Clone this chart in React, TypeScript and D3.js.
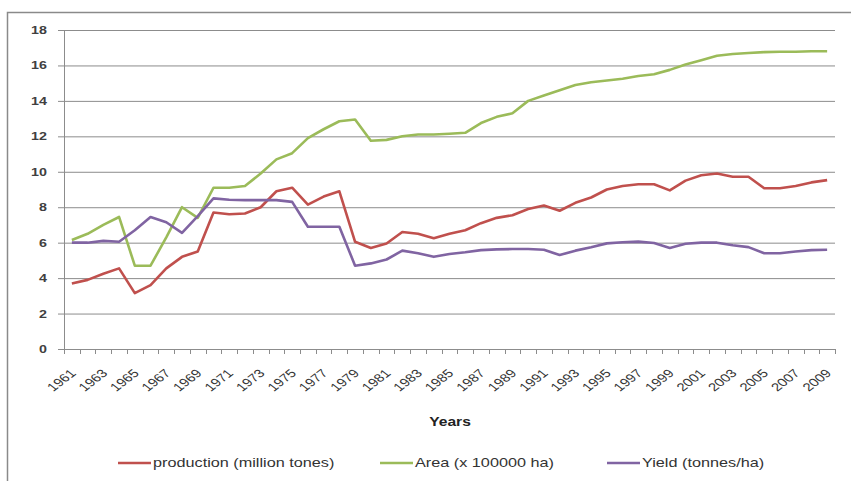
import React, { useEffect, useRef } from 'react';
import * as d3 from 'd3';

const years = [
  1961, 1962, 1963, 1964, 1965, 1966, 1967, 1968, 1969, 1970,
  1971, 1972, 1973, 1974, 1975, 1976, 1977, 1978, 1979, 1980,
  1981, 1982, 1983, 1984, 1985, 1986, 1987, 1988, 1989, 1990,
  1991, 1992, 1993, 1994, 1995, 1996, 1997, 1998, 1999, 2000,
  2001, 2002, 2003, 2004, 2005, 2006, 2007, 2008, 2009,
];

const xTickLabels = [
  1961, 1963, 1965, 1967, 1969, 1971, 1973, 1975, 1977, 1979, 1981, 1983, 1985,
  1987, 1989, 1991, 1993, 1995, 1997, 1999, 2001, 2003, 2005, 2007, 2009,
];

const yTicks = [0, 2, 4, 6, 8, 10, 12, 14, 16, 18];

// production (million tones)
const production = [
  3.7, 3.9, 4.25, 4.55, 3.15, 3.6, 4.55, 5.2, 5.5, 7.7,
  7.6, 7.65, 8.0, 8.9, 9.1, 8.15, 8.6, 8.9, 6.05, 5.7,
  5.95, 6.6, 6.5, 6.25, 6.5, 6.7, 7.1, 7.4, 7.55, 7.9,
  8.1, 7.8, 8.25, 8.55, 9.0, 9.2, 9.3, 9.3, 8.95, 9.5,
  9.8, 9.9, 9.72, 9.72, 9.07, 9.07, 9.2, 9.4, 9.53,
];

// Area (x 100000 ha)
const area = [
  6.15, 6.5, 7.0, 7.45, 4.7, 4.7, 6.3, 8.0, 7.4, 9.1,
  9.1, 9.2, 9.9, 10.7, 11.05, 11.9, 12.4, 12.85, 12.95, 11.75,
  11.8, 12.0, 12.1, 12.1, 12.15, 12.2, 12.75, 13.1, 13.3, 14.0,
  14.3, 14.6, 14.9, 15.05, 15.15, 15.25, 15.4, 15.5, 15.75, 16.05,
  16.3, 16.55, 16.65, 16.7, 16.75, 16.77, 16.77, 16.8, 16.8,
];

// Yield (tonnes/ha)
const yieldValues = [
  6.0, 6.0, 6.1, 6.05, 6.7, 7.45, 7.15, 6.55, 7.5, 8.5,
  8.42, 8.4, 8.4, 8.4, 8.3, 6.9, 6.9, 6.9, 4.7, 4.83,
  5.05, 5.55, 5.4, 5.2, 5.36, 5.46, 5.58, 5.62, 5.64, 5.64,
  5.6, 5.3, 5.55, 5.74, 5.96, 6.02, 6.06, 5.98, 5.7, 5.94,
  6.0, 6.0, 5.85, 5.75, 5.4, 5.4, 5.5, 5.58, 5.6,
];

const seriesNames = ['production (million tones)', 'Area (x 100000 ha)', 'Yield (tonnes/ha)'];
const seriesColors = ['#C0504D', '#9BBB59', '#8064A2'];

export default function App() {
  const ref = useRef<SVGSVGElement>(null);

  useEffect(() => {
    const w = 851;
    const h = 481;
    const left = 64, right = 835, top = 30, bottom = 349;
    const font = "'Liberation Sans', Arial, sans-serif";
    const sx = 1.3;

    const svg = d3.select(ref.current);
    svg.selectAll('*').remove();

    svg.append('rect').attr('width', w).attr('height', h).attr('fill', '#fff');
    // chart frame (only left/top visible)
    svg.append('rect')
      .attr('x', 7.5).attr('y', 12.5)
      .attr('width', w + 20).attr('height', h + 20)
      .attr('fill', 'none').attr('stroke', '#8a8a8a').attr('stroke-width', 1.5);

    const x = d3.scaleBand<number>().domain(years).range([left, right]);
    const y = d3.scaleLinear().domain([0, 18]).range([bottom, top]);

    // gridlines + y tick marks
    svg.append('g').selectAll('line')
      .data(yTicks.filter(t => t > 0))
      .enter().append('line')
      .attr('x1', left - 6).attr('x2', right)
      .attr('y1', d => y(d) + 0.5).attr('y2', d => y(d) + 0.5)
      .attr('stroke', '#8c8c8c').attr('stroke-width', 1);

    // y labels
    svg.append('g').selectAll('text')
      .data(yTicks)
      .enter().append('text')
      .attr('transform', d => `translate(47, ${y(d) + 4}) scale(${sx},1)`)
      .attr('text-anchor', 'end')
      .attr('font-family', font).attr('font-size', 11).attr('font-weight', 'bold')
      .attr('fill', '#404040')
      .text(d => d);

    // axes lines
    svg.append('line')
      .attr('x1', left + 0.5).attr('x2', left + 0.5).attr('y1', top).attr('y2', bottom)
      .attr('stroke', '#8c8c8c');
    svg.append('line')
      .attr('x1', left - 6).attr('x2', right).attr('y1', bottom + 0.5).attr('y2', bottom + 0.5)
      .attr('stroke', '#8c8c8c');

    // x tick marks at category boundaries
    const bounds = years.map(d => x(d) as number).concat([right]);
    svg.append('g').selectAll('line')
      .data(bounds)
      .enter().append('line')
      .attr('x1', d => Math.round(d) + 0.5).attr('x2', d => Math.round(d) + 0.5)
      .attr('y1', bottom).attr('y2', bottom + 5)
      .attr('stroke', '#8c8c8c');

    // x labels
    svg.append('g').selectAll('text')
      .data(xTickLabels)
      .enter().append('text')
      .attr('transform', d => `translate(${(x(d) as number) + x.bandwidth() / 2 + 5}, 374) scale(${sx},1) rotate(-45)`)
      .attr('text-anchor', 'end')
      .attr('font-family', font).attr('font-size', 11.5)
      .attr('fill', '#333')
      .text(d => d);

    // axis title
    svg.append('text')
      .attr('transform', `translate(450, 426) scale(${sx},1)`)
      .attr('text-anchor', 'middle')
      .attr('font-family', font).attr('font-size', 12).attr('font-weight', 'bold')
      .attr('fill', '#222')
      .text('Years');

    // lines
    const line = d3.line<number>()
      .x((d, i) => (x(years[i]) as number) + x.bandwidth() / 2)
      .y(d => y(d));

    [production, area, yieldValues].forEach((data, k) => {
      svg.append('path')
        .datum(data)
        .attr('d', line)
        .attr('fill', 'none')
        .attr('stroke', seriesColors[k])
        .attr('stroke-width', 2.6)
        .attr('stroke-linejoin', 'round');
    });

    // legend
    const legendX = [118, 380, 607];
    const legend = svg.append('g');
    seriesNames.forEach((name, k) => {
      legend.append('line')
        .attr('x1', legendX[k]).attr('x2', legendX[k] + 33)
        .attr('y1', 463).attr('y2', 463)
        .attr('stroke', seriesColors[k]).attr('stroke-width', 2.5);
      legend.append('text')
        .attr('transform', `translate(${legendX[k] + 35}, 467) scale(${sx},1)`)
        .attr('font-family', font).attr('font-size', 12.5)
        .attr('fill', '#333')
        .text(name);
    });
  }, []);

  return (
    <svg ref={ref} width={851} height={481}
      style={{ position: 'absolute', left: 0, top: 0, display: 'block' }} />
  );
}
